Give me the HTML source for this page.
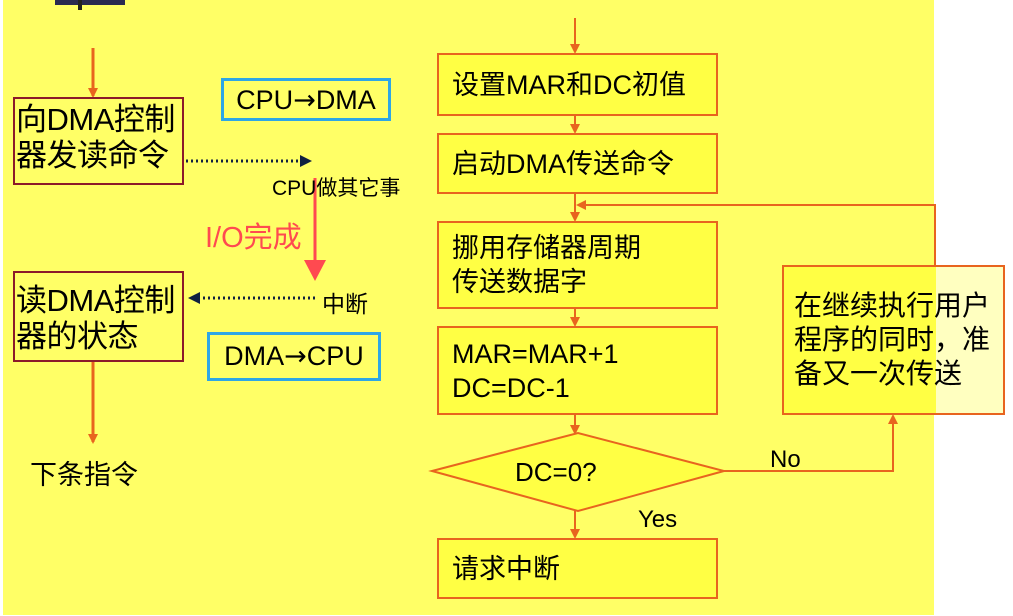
<!DOCTYPE html><html><head><meta charset="utf-8"><style>
body{margin:0;width:1013px;height:616px;background:#fff;position:relative;overflow:hidden;font-family:"Liberation Sans","Noto Sans CJK SC",sans-serif}
.a{position:absolute;white-space:nowrap}
.bx{position:absolute;box-sizing:border-box;border:2px solid #e8641e;background:#ffff44;font-size:27px;line-height:34px;padding-left:13px;display:flex;align-items:center;white-space:nowrap}
.lb{position:absolute;box-sizing:border-box;border:2px solid #8b1a2a;font-size:31px;line-height:36px;padding-left:1px;white-space:nowrap;letter-spacing:-0.5px}
.bl{position:absolute;box-sizing:border-box;border:3px solid #2ea6e6;font-size:27px;text-align:center;line-height:38px;white-space:nowrap}
.ar{font-family:"DejaVu Sans",sans-serif;font-size:27px}
</style></head><body>
<div class="a" style="left:3px;top:0;width:931px;height:615px;background:#ffff66"></div>
<div class="a" style="left:55px;top:0;width:70px;height:5px;background:#2a2a50"></div>
<div class="a" style="left:78px;top:0;width:4px;height:10px;background:#222"></div>
<svg class="a" style="left:0;top:0" width="1013" height="616">
<defs><marker id="o" markerWidth="10" markerHeight="10" refX="8" refY="5" orient="auto" markerUnits="userSpaceOnUse"><path d="M0,0L10,5L0,10z" fill="#e8641e"/></marker>
<marker id="k" markerWidth="12" markerHeight="12" refX="10" refY="6" orient="auto" markerUnits="userSpaceOnUse"><path d="M0,0L12,6L0,12z" fill="#102040"/></marker></defs>
<g stroke="#e8641e" stroke-width="2" fill="none">
<line x1="93" y1="48" x2="93" y2="96" marker-end="url(#o)" stroke-width="3"/>
<line x1="93" y1="362" x2="93" y2="442" marker-end="url(#o)" stroke-width="3"/>
<line x1="575" y1="18" x2="575" y2="52" marker-end="url(#o)"/>
<line x1="575" y1="115" x2="575" y2="132" marker-end="url(#o)"/>
<line x1="575" y1="193" x2="575" y2="220" marker-end="url(#o)"/>
<line x1="575" y1="308" x2="575" y2="325" marker-end="url(#o)"/>
<line x1="575" y1="414" x2="575" y2="433" marker-end="url(#o)"/>
<line x1="575" y1="511" x2="575" y2="537" marker-end="url(#o)"/>
<polyline points="935,265 935,205 578,205" marker-end="url(#o)"/>
<polyline points="724,471 893,471 893,416" marker-end="url(#o)"/>
<polygon points="432,471 578,433 724,471 578,511" fill="#ffff44"/>
</g>
<line x1="186" y1="161" x2="310" y2="161" stroke="#102040" stroke-width="3" stroke-dasharray="2,3" marker-end="url(#k)"/>
<line x1="315" y1="298" x2="190" y2="298" stroke="#102040" stroke-width="3" stroke-dasharray="2,3" marker-end="url(#k)"/>
<line x1="315" y1="178" x2="315" y2="262" stroke="#ff4a50" stroke-width="3"/>
<path d="M304,260L326,260L315,281z" fill="#ff4a50"/>
<text x="515" y="481" font-size="26" font-family="Liberation Sans">DC=0?</text>
</svg>
<div class="lb" style="left:13px;top:97px;width:171px;height:88px;padding-top:3px">向DMA控制<br>器发读命令</div>
<div class="lb" style="left:13px;top:271px;width:171px;height:91px;padding-top:10px">读DMA控制<br>器的状态</div>
<div class="bl" style="left:221px;top:78px;width:170px;height:43px">CPU<span class="ar">→</span>DMA</div>
<div class="bl" style="left:207px;top:332px;width:174px;height:49px;line-height:43px">DMA<span class="ar">→</span>CPU</div>
<div class="a" style="left:272px;top:172px;font-size:21px">CPU做其它事</div>
<div class="a" style="left:205px;top:214px;font-size:29px;color:#ff4a50">I/O完成</div>
<div class="a" style="left:322px;top:285px;font-size:23px">中断</div>
<div class="a" style="left:30px;top:453px;font-size:27px">下条指令</div>
<div class="bx" style="left:437px;top:53px;width:281px;height:63px">设置MAR和DC初值</div>
<div class="bx" style="left:437px;top:133px;width:281px;height:61px">启动DMA传送命令</div>
<div class="bx" style="left:437px;top:221px;width:281px;height:88px">挪用存储器周期<br>传送数据字</div>
<div class="bx" style="left:437px;top:326px;width:281px;height:89px">MAR=MAR+1<br>DC=DC-1</div>
<div class="bx" style="left:437px;top:538px;width:281px;height:61px">请求中断</div>
<div class="bx" style="left:782px;top:265px;width:223px;height:150px;background:linear-gradient(90deg,#ffff44 0,#ffff44 152px,#ffffc0 152px);padding-left:10px;font-size:28px">在继续执行用户<br>程序的同时，准<br>备又一次传送</div>
<div class="a" style="left:770px;top:446px;font-size:24px">No</div>
<div class="a" style="left:638px;top:506px;font-size:24px">Yes</div>
</body></html>
